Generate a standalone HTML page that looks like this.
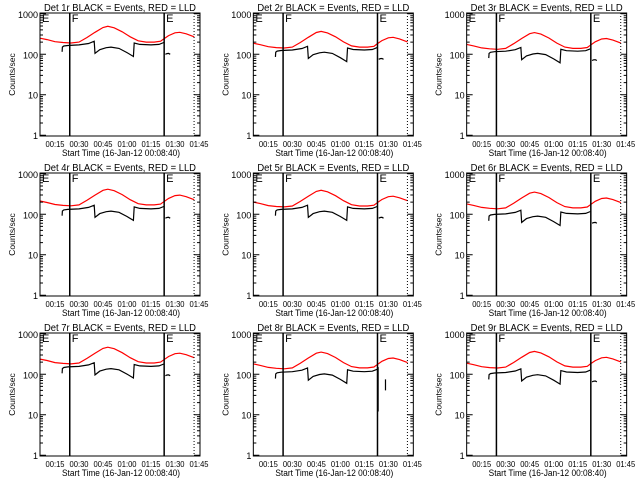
<!DOCTYPE html>
<html><head><meta charset="utf-8"><style>
html,body{margin:0;padding:0;background:#fff;}
svg{display:block;font-family:"Liberation Sans",sans-serif;}
</style></head><body>
<svg id="root" width="640" height="480" viewBox="0 0 640 480"></svg>
<script>
// Data (time in minutes after 00:00, counts/sec)
const detectorNames = ["1r","2r","3r","4r","5r","6r","7r","8r","9r"];
const redTimes = [5.6,10,15,20,25,30,35,40,45,48,52,57,62,67,72,77,81,83,86,90,93,97,102];
const redValues = [250,230,205,195,190,200,260,350,460,490,450,360,270,215,200,200,210,240,290,340,350,320,270];
const blackTimes = [19.4,19.6,20.5,23,30,36,39.5,40,43,47,50,55,60,64,64.5,68,75,80,83];
const blackValues = [115,150,160,165,170,185,210,105,130,145,150,140,110,88,190,175,170,175,195];
const tailTimes = [84,85,86,87];
const tailValues = [100,104,105,100];
const redScale = [1,0.75,0.7,0.85,0.8,0.72,0.95,0.72,0.75];
const blackScale = [1,0.75,0.7,0.8,0.8,0.6,0.92,0.68,0.65];
const xTickMinutes = [15,30,45,60,75,90,105];
const xTickLabels = ["00:15","00:30","00:45","01:00","01:15","01:30","01:45"];
const yTickValues = [1,10,100,1000];
const yTickLabels = ["1","10","100","1000"];
const markerTimes = [24.2,83.2];
const markerLabels = ["F","E"];
const dottedTime = 101.9;

const NS="http://www.w3.org/2000/svg";
const root=document.getElementById('root');
function mk(tag,attrs,parent){const e=document.createElementNS(NS,tag);for(const k in attrs)e.setAttribute(k,attrs[k]);parent.appendChild(e);return e;}
const X0=40,X1=200,Y0=13,Y1=136,TMIN=5.6,TMAX=105.6,LMIN=-0.02,LMAX=3.02;
function sx(t){return X0+(t-TMIN)/(TMAX-TMIN)*(X1-X0);}
function sy(v){return Y1-(Math.log10(v)-LMIN)/(LMAX-LMIN)*(Y1-Y0);}
function pathOf(ts,vs,s){return ts.map((t,i)=>(i?'L':'M')+sx(t).toFixed(1)+' '+sy(vs[i]*s).toFixed(1)).join(' ');}

for(let p=0;p<9;p++){
  const col=p%3,row=Math.floor(p/3);
  const g=mk('g',{transform:`translate(${(col*213.33).toFixed(2)},${row*160})`},root);
  
  
  const title=mk('text',{x:120,y:11,'font-size':10,'text-anchor':'middle',textLength:152,lengthAdjust:'spacingAndGlyphs'},g);
  title.textContent='Det '+detectorNames[p]+' BLACK = Events, RED = LLD';
  
  
  const red=mk('path',{d:pathOf(redTimes,redValues,redScale[p]),fill:'none',stroke:'#f00','stroke-width':1.2},g);
  
  
  const blk=mk('path',{d:pathOf(blackTimes,blackValues,blackScale[p]),fill:'none',stroke:'#000','stroke-width':1.2},g);
  
  
  let tv=tailValues.map(v=>v*blackScale[p]);
  let td=pathOf(tailTimes,tv,1);
  if(p===7){td='M'+sx(83.6)+' '+sy(150)+' L'+sx(83.6)+' '+sy(12)+' M'+sx(88.2)+' '+sy(75)+' L'+sx(88.2)+' '+sy(40);}
  const tail=mk('path',{d:td,fill:'none',stroke:'#000','stroke-width':1.2},g);
  
  
  markerTimes.forEach((t,i)=>{
    const l=mk('line',{x1:sx(t),x2:sx(t),y1:Y0,y2:Y1,stroke:'#000','stroke-width':1.5},g);
    
    
    const tx=mk('text',{x:sx(t)+2,y:Y0+9,'font-size':11},g);
    tx.textContent=markerLabels[i];
    
    
  });
  const e0=mk('text',{x:X0+2,y:Y0+9,'font-size':11},g);e0.textContent='E';
  
  
  const dl=mk('line',{x1:sx(dottedTime),x2:sx(dottedTime),y1:Y0,y2:Y1,stroke:'#000','stroke-width':1,'stroke-dasharray':'1,2'},g);
  
  
  const box=mk('rect',{x:X0,y:Y0,width:X1-X0,height:Y1-Y0,fill:'none',stroke:'#000','stroke-width':1},g);
  
  
  let tk='';
  for(let d=0;d<3;d++)for(let m=1;m<=9;m++){const v=m*Math.pow(10,d);const y=sy(v).toFixed(1);const L=m===1?6:3;tk+=`M${X0} ${y}h${L}M${X1} ${y}h${-L}`;}
  tk+=`M${X0} ${sy(1000).toFixed(1)}h6M${X1} ${sy(1000).toFixed(1)}h-6`;
  const ticks=mk('path',{d:tk,stroke:'#000','stroke-width':1},g);
  
  
  yTickValues.forEach((v,i)=>{
    const t=mk('text',{x:X0-2,y:sy(v)+4,'font-size':9,'text-anchor':'end'},g);
    t.textContent=yTickLabels[i];
    
    
  });
  xTickMinutes.forEach((m,i)=>{
    const t=mk('text',{x:sx(m),y:Y1+11,'font-size':8.5,'text-anchor':'middle',textLength:19,lengthAdjust:'spacingAndGlyphs'},g);
    t.textContent=xTickLabels[i];
    
    
  });
  const yl=mk('text',{x:0,y:0,'font-size':8.5,'text-anchor':'middle',transform:`translate(15,${(Y0+Y1)/2}) rotate(-90)`},g);
  yl.textContent='Counts/sec';
  
  
  const xl=mk('text',{x:121,y:Y1+20,'font-size':9,'text-anchor':'middle',textLength:118,lengthAdjust:'spacingAndGlyphs'},g);
  xl.textContent='Start Time (16-Jan-12 00:08:40)';
  
  
}
</script>
</body></html>
